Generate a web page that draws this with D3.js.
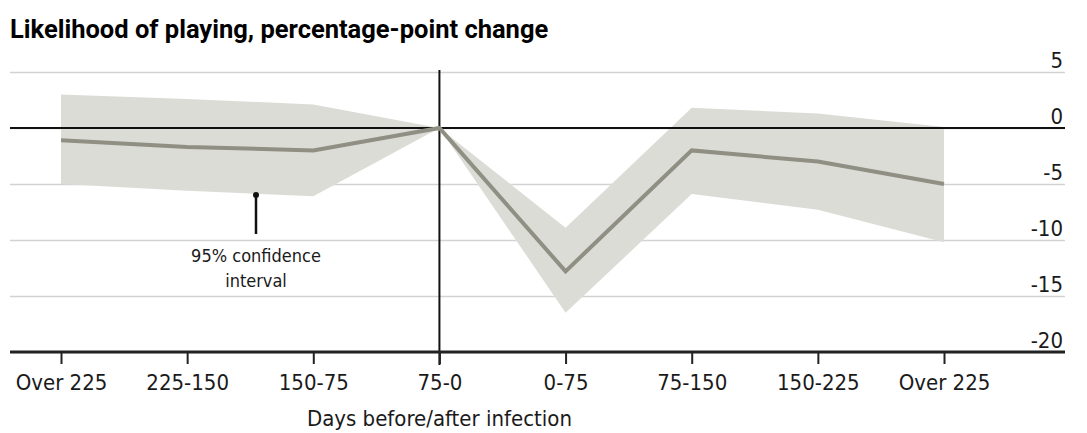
<!DOCTYPE html>
<html>
<head>
<meta charset="utf-8">
<script src="https://cdnjs.cloudflare.com/ajax/libs/d3/7.8.5/d3.min.js"></script>
<style>
  body { margin: 0; background: #fff; }
  text { font-family: "DejaVu Sans Condensed", "Liberation Sans", sans-serif; fill: #1a1a1a; }
</style>
</head>
<body>
<svg id="chart"></svg>
<script>
// periods around infection, left = before, right = after
var periods = ["Over 225", "225-150", "150-75", "75-0", "0-75", "75-150", "150-225", "Over 225"];
var change = [-1.1, -1.7, -2.0, 0, -12.8, -2.0, -3.0, -5.0];
var ciHigh = [3.0, 2.6, 2.1, 0, -8.9, 1.8, 1.3, 0.1];
var ciLow = [-5.0, -5.6, -6.1, 0, -16.5, -5.9, -7.3, -10.2];
var yTicks = [5, 0, -5, -10, -15, -20];

var W = 1087, H = 433;
var svg = d3.select("#chart").attr("width", W).attr("height", H);

var x = d3.scaleLinear().domain([0, periods.length - 1]).range([61, 944]);
var y = d3.scaleLinear().domain([-20, 5]).range([352, 72]);

var gridLeft = 10, gridRight = 1065;

svg.append("text")
  .text("Likelihood of playing, percentage-point change")
  .attr("x", 10).attr("y", 38)
  .style("font-family", "Roboto, sans-serif")
  .style("font-weight", "bold")
  .style("font-size", "25.5px")
  .style("fill", "#000");

// gridlines + right labels
var yAxis = d3.axisRight(y)
  .tickValues(yTicks)
  .tickSize(gridRight - gridLeft)
  .tickFormat(function(d) { return String(d); });
var gy = svg.append("g")
  .attr("transform", "translate(" + gridLeft + ",0)")
  .call(yAxis);
gy.select(".domain").remove();
gy.selectAll(".tick line")
  .attr("stroke", "#d2d2d2")
  .attr("stroke-width", 1.5);
gy.selectAll(".tick text")
  .attr("x", gridRight - gridLeft - 2)
  .attr("dy", "-5")
  .attr("text-anchor", "end")
  .style("font-size", "22px")
  .style("fill", "#1a1a1a");

// confidence band
var area = d3.area()
  .x(function(d, i) { return x(i); })
  .y0(function(d, i) { return y(ciLow[i]); })
  .y1(function(d, i) { return y(ciHigh[i]); });
svg.append("path")
  .attr("d", area(periods))
  .attr("fill", "#dcdcd7");

// zero line and vertical infection marker
svg.append("line")
  .attr("x1", gridLeft).attr("x2", gridRight)
  .attr("y1", y(0)).attr("y2", y(0))
  .attr("stroke", "#111").attr("stroke-width", 2);

svg.append("line")
  .attr("x1", x(3)).attr("x2", x(3))
  .attr("y1", 70).attr("y2", 365)
  .attr("stroke", "#111").attr("stroke-width", 2);

// estimate line
var line = d3.line()
  .x(function(d, i) { return x(i); })
  .y(function(d) { return y(d); });
svg.append("path")
  .attr("d", line(change))
  .attr("fill", "none")
  .attr("stroke", "#8f8f84")
  .attr("stroke-width", 4)
  .attr("stroke-linejoin", "miter");

// bottom axis
var xAxis = d3.axisBottom(x)
  .tickValues(d3.range(periods.length))
  .tickSize(12)
  .tickPadding(10)
  .tickFormat(function(i) { return periods[i]; });
var gx = svg.append("g")
  .attr("transform", "translate(0," + y(-20) + ")")
  .call(xAxis);
gx.select(".domain").remove();
gx.selectAll(".tick line").attr("stroke", "#222").attr("stroke-width", 2);
gx.selectAll(".tick text")
  .style("font-size", "22px")
  .style("fill", "#1a1a1a");

svg.append("line")
  .attr("x1", gridLeft).attr("x2", gridRight)
  .attr("y1", y(-20)).attr("y2", y(-20))
  .attr("stroke", "#222").attr("stroke-width", 3);

svg.append("text")
  .text("Days before/after infection")
  .attr("x", x(3)).attr("y", 426)
  .attr("text-anchor", "middle")
  .style("font-size", "22px");

// annotation
var ax = 256;
svg.append("line")
  .attr("x1", ax).attr("x2", ax)
  .attr("y1", 195).attr("y2", 234)
  .attr("stroke", "#111").attr("stroke-width", 2.5);
svg.append("circle")
  .attr("cx", ax).attr("cy", 195).attr("r", 3)
  .attr("fill", "#111");
svg.append("text")
  .attr("x", ax).attr("y", 262)
  .attr("text-anchor", "middle")
  .style("font-size", "18px")
  .text("95% confidence");
svg.append("text")
  .attr("x", ax).attr("y", 287)
  .attr("text-anchor", "middle")
  .style("font-size", "18px")
  .text("interval");
</script>
</body>
</html>
